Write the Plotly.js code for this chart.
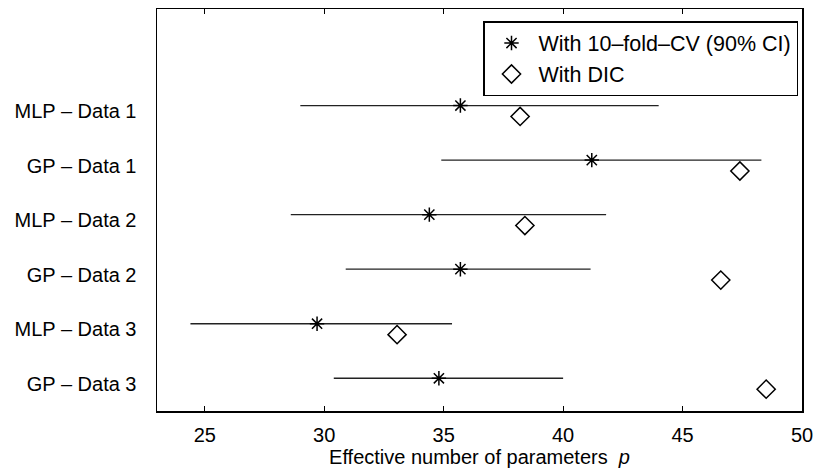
<!DOCTYPE html>
<html>
<head>
<meta charset="utf-8">
<script src="https://cdn.plot.ly/plotly-3.0.1.min.js"></script>
<style>html,body{margin:0;padding:0;background:#fff;}#chart{width:816px;height:468px;}</style>
</head>
<body>
<div id="chart"></div>
<script>
// Categories, bottom to top
const categories = ["GP – Data 3", "MLP – Data 3", "GP – Data 2", "MLP – Data 2", "GP – Data 1", "MLP – Data 1"];
const categoryPos = [1, 2, 3, 4, 5, 6];
// 10-fold-CV estimates and 90% CI
const cvMean  = [34.8, 29.7, 35.7, 34.4, 41.2, 35.7];
const cvLower = [30.4, 24.4, 30.9, 28.6, 34.9, 29.0];
const cvUpper = [40.0, 35.35, 41.15, 41.8, 48.3, 44.0];
// DIC estimates
const dicValue = [48.5, 33.05, 46.6, 38.4, 47.4, 38.2];
const xTicks = [25, 30, 35, 40, 45, 50];

const offset = 0.1;
const font = {family: "Liberation Sans, Arial, Helvetica, sans-serif", size: 20, color: "#000"};
const legendFont = {family: "Liberation Sans, Arial, Helvetica, sans-serif", size: 21.5, color: "#000"};

const cvTrace = {
  type: "scatter", mode: "markers",
  name: "With 10–fold–CV (90% CI)",
  x: cvMean,
  y: categoryPos.map(p => p + offset),
  marker: {symbol: "asterisk-open", size: 12, color: "#000", line: {color: "#000", width: 1.5}},
  error_x: {
    type: "data", symmetric: false,
    array: cvUpper.map((u, i) => u - cvMean[i]),
    arrayminus: cvMean.map((m, i) => m - cvLower[i]),
    width: 0, thickness: 1.3, color: "#222"
  }
};
const dicTrace = {
  type: "scatter", mode: "markers",
  name: "With DIC",
  x: dicValue,
  y: categoryPos.map(p => p - offset),
  marker: {symbol: "diamond-open", size: 14, color: "#000", line: {color: "#000", width: 1.5}}
};

const layout = {
  width: 816, height: 468,
  margin: {l: 157, r: 14, t: 9, b: 57},
  paper_bgcolor: "#fff", plot_bgcolor: "#fff",
  font: font,
  showlegend: true,
  legend: {
    x: 0.9938, y: 0.97, xanchor: "right", yanchor: "top",
    bgcolor: "#fff", bordercolor: "#000", borderwidth: 1.5,
    font: legendFont, tracegroupgap: 0, itemwidth: 44
  },
  xaxis: {
    range: [23, 50],
    tickvals: xTicks, ticktext: xTicks.map(String),
    ticks: "inside", ticklen: 5, tickwidth: 1, tickcolor: "#000",
    showline: true, linecolor: "#000", linewidth: 1.5, mirror: "ticks",
    showgrid: false, zeroline: false,
    ticklabelstandoff: 5,
    tickfont: font,
    title: {text: "Effective number of parameters&nbsp; <i>p</i>", font: font, standoff: 1}
  },
  yaxis: {
    range: [0.5, 7.87],
    tickvals: categoryPos, ticktext: categories,
    ticks: "", ticklabelstandoff: 15,
    showline: true, linecolor: "#000", linewidth: 1.5, mirror: true,
    showgrid: false, zeroline: false,
    tickfont: font
  }
};

Plotly.newPlot("chart", [cvTrace, dicTrace], layout, {displayModeBar: false, staticPlot: true});
</script>
</body>
</html>
